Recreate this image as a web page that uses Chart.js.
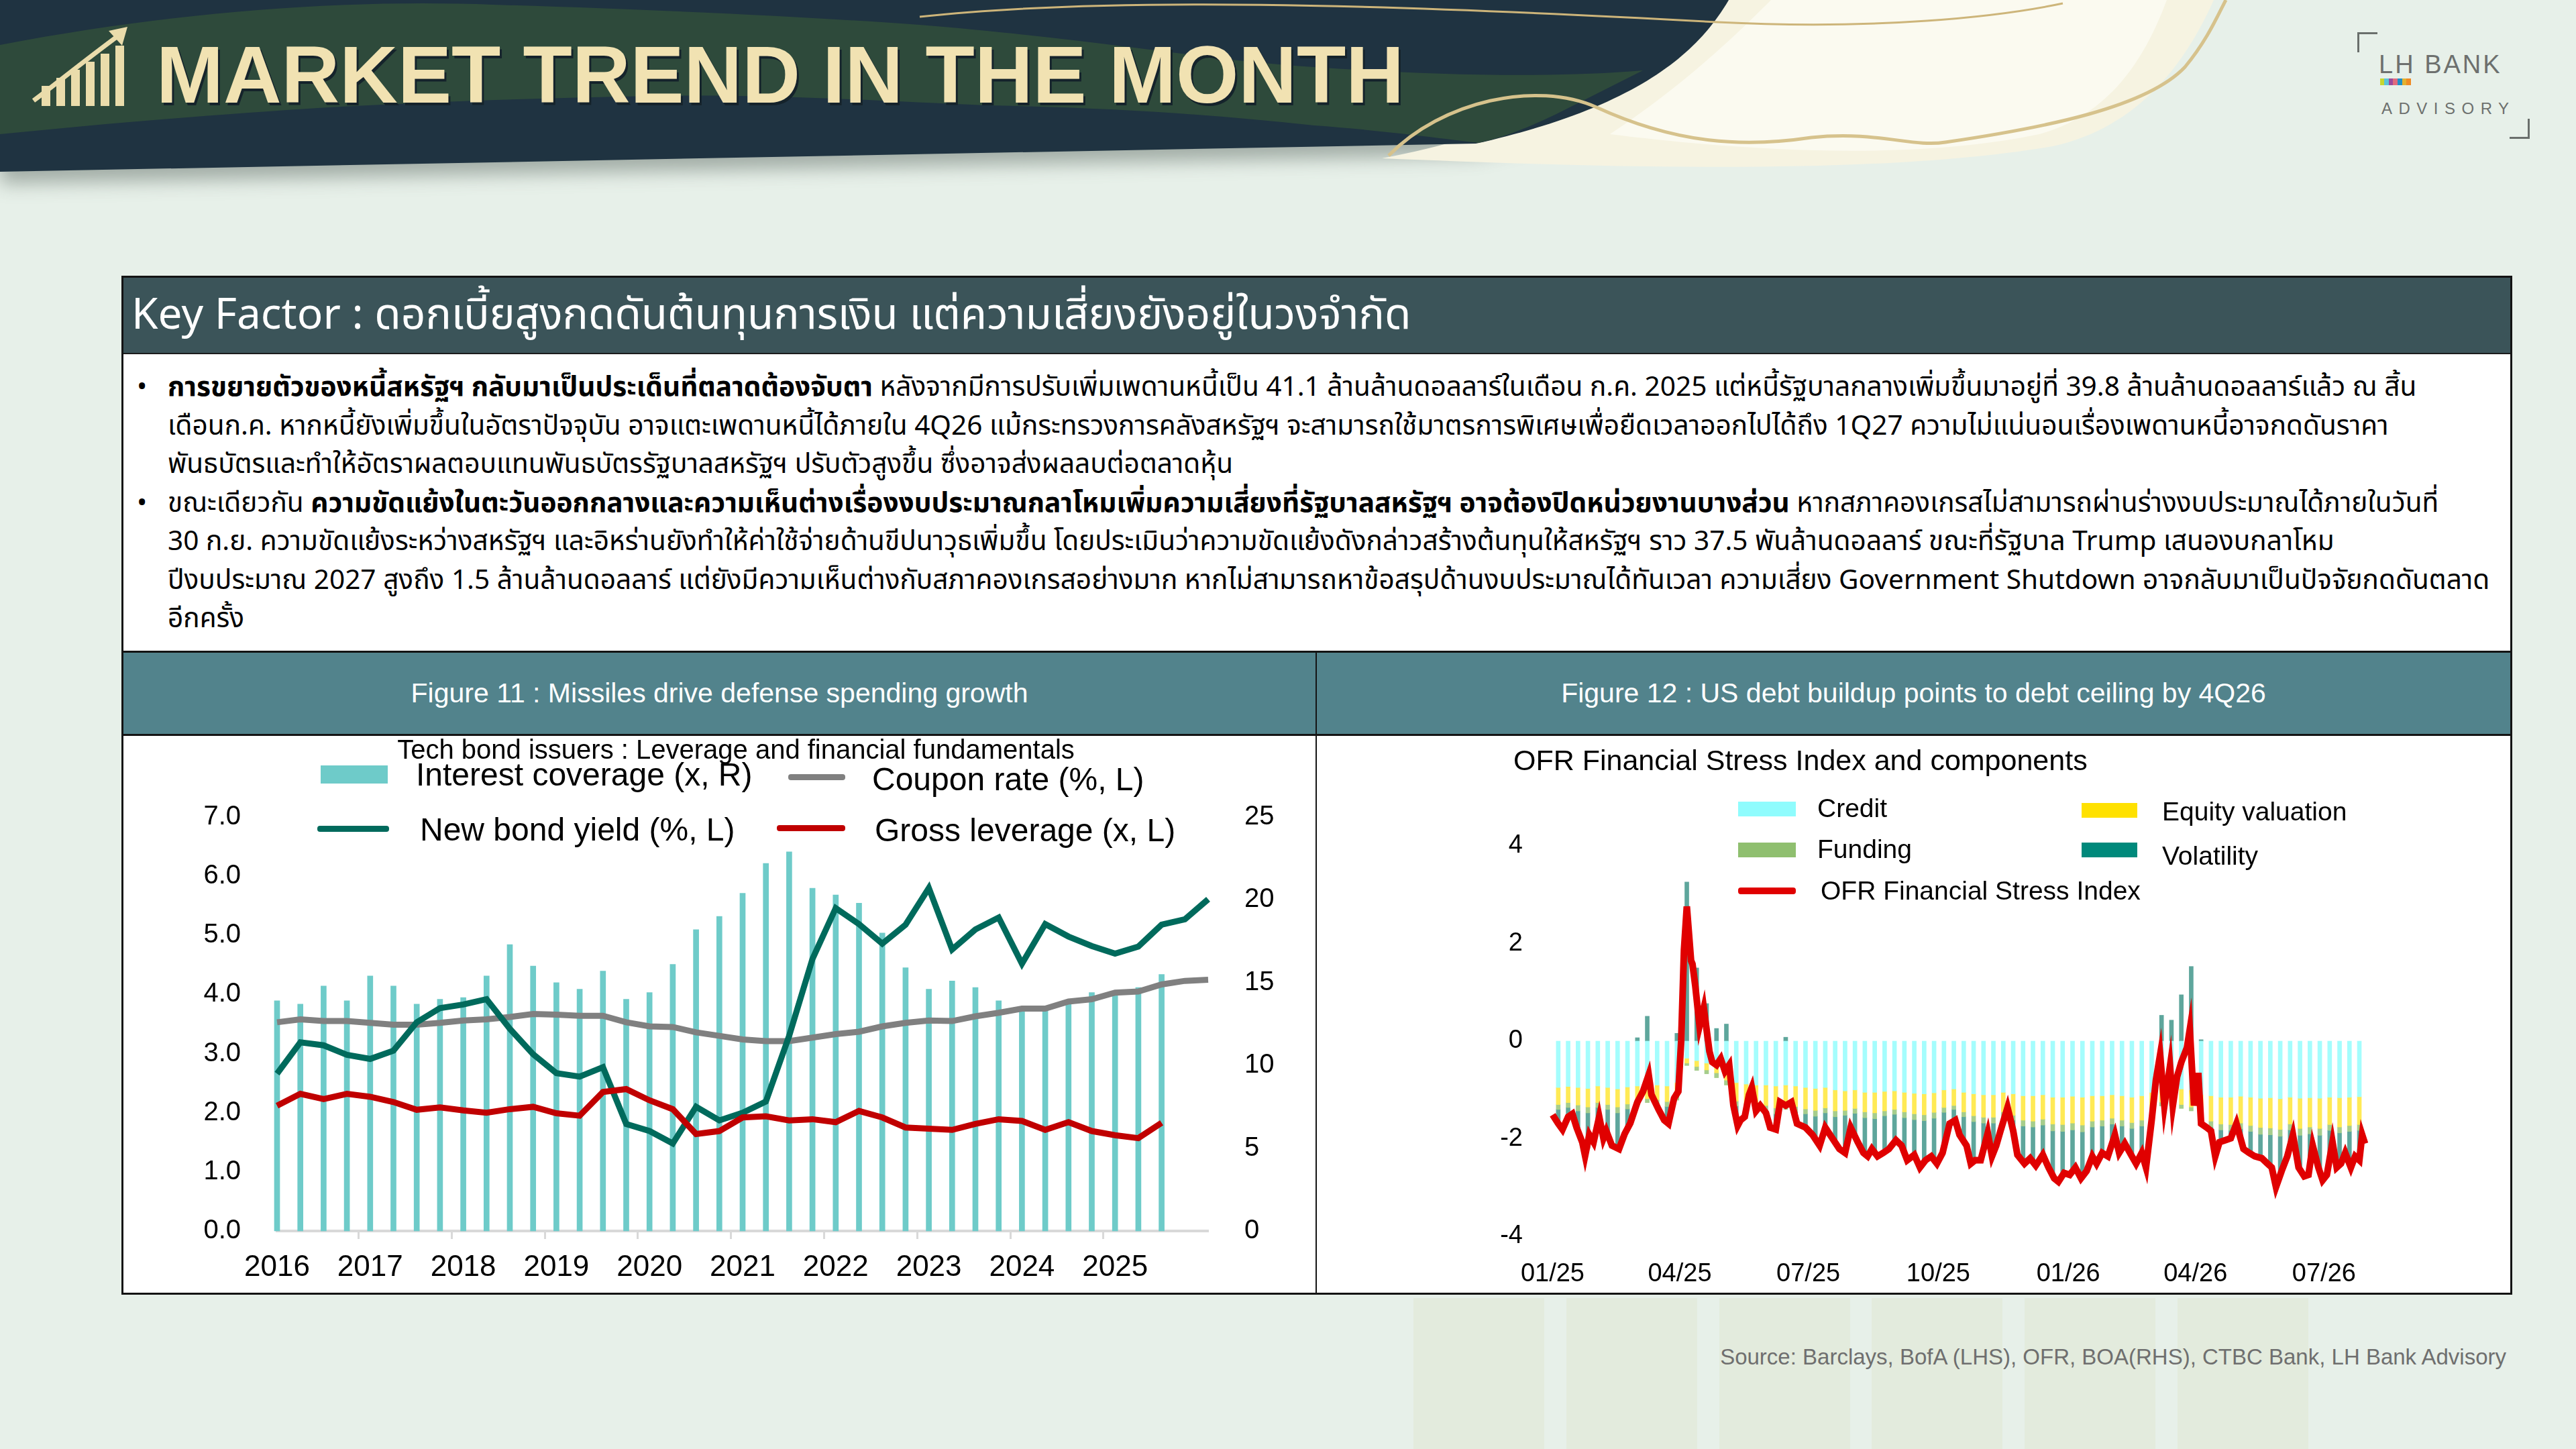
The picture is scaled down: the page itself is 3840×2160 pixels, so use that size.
<!DOCTYPE html>
<html>
<head>
<meta charset="utf-8">
<script src="https://cdn.jsdelivr.net/npm/chart.js@4.4.1/dist/chart.umd.min.js"></script>
<style>
  html, body { margin: 0; padding: 0; }
  body { width: 3840px; height: 2160px; overflow: hidden; background: #e7f0e9; font-family: "Liberation Sans", Arial, sans-serif; position: relative; }
  .abs { position: absolute; }
  .thai { font-family: "Noto Sans Thai", "Leelawadee UI", Tahoma, "Noto Sans", "DejaVu Sans", sans-serif; }
  .stripe { position: absolute; top: 1935px; height: 225px; width: 195px; background: #e3ebdd; }
  .para { position: relative; padding-left: 66px; white-space: nowrap; }
  .para .dot { position: absolute; left: 20px; top: 0; }
  .lg { position: absolute; white-space: nowrap; color: #000; }
</style>
</head>
<body>

<!-- decorative background stripes -->
<div class="stripe" style="left:2107px"></div>
<div class="stripe" style="left:2335px"></div>
<div class="stripe" style="left:2563px"></div>
<div class="stripe" style="left:2790px"></div>
<div class="stripe" style="left:3018px"></div>
<div class="stripe" style="left:3246px"></div>

<!-- header band -->
<svg class="abs" style="left:0;top:0" width="3840" height="320">
  <defs>
    <filter id="sh" x="-5%" y="-30%" width="110%" height="170%"><feGaussianBlur stdDeviation="14"/></filter>
    <clipPath id="bandClip"><path d="M0,0 L2577,0 C2530,80 2440,160 2200,214 L0,256 Z"/></clipPath>
  </defs>
  <path d="M0,0 L2577,0 C2530,80 2440,160 2200,214 L0,256 Z" fill="#5d6a64" opacity="0.5" filter="url(#sh)" transform="translate(0,18)"/>
  <path d="M2060,236 C2300,190 2420,110 2520,0 L3300,0 C3260,90 3190,190 3060,218 C2800,262 2400,250 2060,236 Z" fill="#f6f3e1"/>
  <path d="M2400,200 C2520,120 2600,40 2640,0 L3230,0 C3200,80 3150,170 3040,200 C2850,240 2600,225 2400,200 Z" fill="#fbfaf0"/>
  <path d="M0,0 L2577,0 C2530,80 2440,160 2200,214 L0,256 Z" fill="#1f3341"/>
  <g clip-path="url(#bandClip)">
    <path d="M0,67 C300,10 550,0 735,7 C1000,15 1200,25 1371,37 C1650,60 1800,90 1959,100 C2100,110 2300,118 2449,105 L2330,165 C2280,190 2240,205 2204,213 C2100,200 2030,192 1959,187 C1800,170 1650,160 1469,157 C1300,150 1150,140 980,143 C800,146 640,152 490,160 C300,172 150,185 0,200 Z" fill="#2e4a3b"/>
  </g>
  <path d="M1371,25 C1650,-5 2050,5 2560,33 C2800,45 2980,25 3075,5" stroke="#cdb57a" stroke-width="3" fill="none"/>
  <path d="M2070,232 C2150,150 2290,120 2380,160 C2500,215 2600,220 2700,205 C2800,195 2850,220 2900,212 C3050,190 3200,160 3257,100 C3290,60 3305,25 3318,0" stroke="#d6c28c" stroke-width="5" fill="none"/>
  <!-- title icon -->
  <g fill="#eadcab">
    <rect x="62" y="128" width="13" height="30"/>
    <rect x="84" y="116" width="13" height="42"/>
    <rect x="106" y="104" width="13" height="54"/>
    <rect x="128" y="92" width="13" height="66"/>
    <rect x="150" y="80" width="13" height="78"/>
    <rect x="172" y="68" width="13" height="90"/>
  </g>
  <path d="M50,150 C90,120 120,95 178,52" stroke="#eadcab" stroke-width="7" fill="none"/>
  <path d="M162,46 L190,40 L182,68 Z" fill="#eadcab"/>
</svg>

<div class="abs" style="left:233px;top:51px;font:bold 120px/120px 'Liberation Sans',Arial,sans-serif;color:#f1e2b2;text-shadow:3px 4px 0 #15232b;white-space:nowrap">MARKET TREND IN THE MONTH</div>

<!-- logo -->
<div class="abs" style="left:3514px;top:48px;width:27px;height:27px;border-left:3px solid #6a6f6c;border-top:3px solid #6a6f6c"></div>
<div class="abs" style="left:3741px;top:177px;width:27px;height:27px;border-right:3px solid #6a6f6c;border-bottom:3px solid #6a6f6c"></div>
<div class="abs" style="left:3546px;top:76px;font:38px/40px 'Liberation Sans',Arial,sans-serif;color:#6d706e;letter-spacing:3px;white-space:nowrap">LH&nbsp;BANK</div>
<div class="abs" style="left:3548px;top:117px;width:46px;height:10px;background:linear-gradient(90deg,#c8d62e 0 14%,#5bc4d8 14% 28%,#9b4a9c 28% 42%,#e06b7d 42% 57%,#1e8fc8 57% 71%,#e3b12f 71% 85%,#f08a24 85% 100%)"></div>
<div class="abs" style="left:3550px;top:149px;font:24px/26px 'Liberation Sans',Arial,sans-serif;color:#6d706e;letter-spacing:9.5px;white-space:nowrap">ADVISORY</div>

<!-- key factor block -->
<div class="abs" style="left:181px;top:411px;width:3558px;height:1513px;border:3px solid #141414;background:#fff"></div>
<div class="abs thai" style="left:184px;top:414px;width:3558px;height:114px;background:#3b5459;border-bottom:2px solid #1b1b1b;color:#fff;font-size:64px;line-height:114px;padding-left:12px;box-sizing:border-box;white-space:nowrap">Key Factor : ดอกเบี้ยสูงกดดันต้นทุนการเงิน แต่ความเสี่ยงยังอยู่ในวงจำกัด</div>

<div class="abs thai" style="left:184px;top:530px;width:3540px;height:440px;font-size:40.6px;line-height:57.5px;color:#000;padding-top:19px;box-sizing:border-box">
  <div class="para"><span class="dot">•</span><b>การขยายตัวของหนี้สหรัฐฯ กลับมาเป็นประเด็นที่ตลาดต้องจับตา</b> หลังจากมีการปรับเพิ่มเพดานหนี้เป็น 41.1 ล้านล้านดอลลาร์ในเดือน ก.ค. 2025 แต่หนี้รัฐบาลกลางเพิ่มขึ้นมาอยู่ที่ 39.8 ล้านล้านดอลลาร์แล้ว ณ สิ้น<br>เดือนก.ค. หากหนี้ยังเพิ่มขึ้นในอัตราปัจจุบัน อาจแตะเพดานหนี้ได้ภายใน 4Q26 แม้กระทรวงการคลังสหรัฐฯ จะสามารถใช้มาตรการพิเศษเพื่อยืดเวลาออกไปได้ถึง 1Q27 ความไม่แน่นอนเรื่องเพดานหนี้อาจกดดันราคา<br>พันธบัตรและทำให้อัตราผลตอบแทนพันธบัตรรัฐบาลสหรัฐฯ ปรับตัวสูงขึ้น ซึ่งอาจส่งผลลบต่อตลาดหุ้น</div>
  <div class="para"><span class="dot">•</span>ขณะเดียวกัน <b>ความขัดแย้งในตะวันออกกลางและความเห็นต่างเรื่องงบประมาณกลาโหมเพิ่มความเสี่ยงที่รัฐบาลสหรัฐฯ อาจต้องปิดหน่วยงานบางส่วน</b> หากสภาคองเกรสไม่สามารถผ่านร่างงบประมาณได้ภายในวันที่<br>30 ก.ย. ความขัดแย้งระหว่างสหรัฐฯ และอิหร่านยังทำให้ค่าใช้จ่ายด้านขีปนาวุธเพิ่มขึ้น โดยประเมินว่าความขัดแย้งดังกล่าวสร้างต้นทุนให้สหรัฐฯ ราว 37.5 พันล้านดอลลาร์ ขณะที่รัฐบาล Trump เสนองบกลาโหม<br>ปีงบประมาณ 2027 สูงถึง 1.5 ล้านล้านดอลลาร์ แต่ยังมีความเห็นต่างกับสภาคองเกรสอย่างมาก หากไม่สามารถหาข้อสรุปด้านงบประมาณได้ทันเวลา ความเสี่ยง Government Shutdown อาจกลับมาเป็นปัจจัยกดดันตลาด<br>อีกครั้ง</div>
</div>

<!-- figure header bar -->
<div class="abs" style="left:184px;top:970px;width:3558px;height:121px;background:#52838c;border-top:3px solid #141414;border-bottom:3px solid #141414"></div>
<div class="abs" style="left:184px;top:973px;width:1777px;height:121px;line-height:121px;text-align:center;color:#fff;font-size:41px;white-space:nowrap">Figure 11 : Missiles drive defense spending growth</div>
<div class="abs" style="left:1963px;top:973px;width:1779px;height:121px;line-height:121px;text-align:center;color:#fff;font-size:41px;white-space:nowrap">Figure 12 : US debt buildup points to debt ceiling by 4Q26</div>
<div class="abs" style="left:1961px;top:970px;width:2px;height:957px;background:#141414"></div>

<!-- charts -->
<div class="abs" style="left:184px;top:1097px;width:1776px;height:830px"><canvas id="leftChart"></canvas></div>
<div class="abs" style="left:1963px;top:1097px;width:1779px;height:830px"><canvas id="rightChart"></canvas></div>

<!-- left chart title & legend -->
<div class="lg" style="left:497px;top:1097px;width:1200px;text-align:center;font-size:40px;line-height:40px">Tech bond issuers : Leverage and financial fundamentals</div>
<div class="abs" style="left:478px;top:1141px;width:100px;height:27px;background:#6ecbc9"></div>
<div class="lg" style="left:620px;top:1131px;font-size:48px;line-height:48px">Interest coverage (x, R)</div>
<div class="abs" style="left:1175px;top:1154px;width:85px;height:9px;background:#808080;border-radius:4px"></div>
<div class="lg" style="left:1300px;top:1138px;font-size:48px;line-height:48px">Coupon rate (%, L)</div>
<div class="abs" style="left:473px;top:1231px;width:107px;height:9px;background:#006a5c;border-radius:4px"></div>
<div class="lg" style="left:626px;top:1213px;font-size:48px;line-height:48px">New bond yield (%, L)</div>
<div class="abs" style="left:1158px;top:1230px;width:102px;height:9px;background:#c00000;border-radius:4px"></div>
<div class="lg" style="left:1304px;top:1214px;font-size:48px;line-height:48px">Gross leverage (x, L)</div>

<!-- right chart title & legend -->
<div class="lg" style="left:2256px;top:1112px;font-size:43px;line-height:43px">OFR Financial Stress Index and components</div>
<div class="abs" style="left:2591px;top:1195px;width:86px;height:22px;background:#8ffcfd"></div>
<div class="lg" style="left:2709px;top:1185px;font-size:39px;line-height:40px">Credit</div>
<div class="abs" style="left:3103px;top:1197px;width:83px;height:22px;background:#ffe100"></div>
<div class="lg" style="left:3223px;top:1190px;font-size:39px;line-height:40px">Equity valuation</div>
<div class="abs" style="left:2591px;top:1256px;width:86px;height:22px;background:#8fbf6f"></div>
<div class="lg" style="left:2709px;top:1246px;font-size:39px;line-height:40px">Funding</div>
<div class="abs" style="left:3103px;top:1256px;width:83px;height:22px;background:#00897b"></div>
<div class="lg" style="left:3223px;top:1256px;font-size:39px;line-height:40px">Volatility</div>
<div class="abs" style="left:2591px;top:1323px;width:86px;height:10px;background:#e00000;border-radius:4px"></div>
<div class="lg" style="left:2714px;top:1308px;font-size:39px;line-height:40px">OFR Financial Stress Index</div>

<div class="lg" style="right:104px;top:2006px;font-size:33px;line-height:34px;color:#6f6f6f">Source: Barclays, BofA (LHS), OFR, BOA(RHS), CTBC Bank, LH Bank Advisory</div>

<script>
// ---- Figure 11 : quarterly, 1Q16 .. 1Q26
const quarters = ['1Q16','2Q16','3Q16','4Q16','1Q17','2Q17','3Q17','4Q17','1Q18','2Q18','3Q18','4Q18',
  '1Q19','2Q19','3Q19','4Q19','1Q20','2Q20','3Q20','4Q20','1Q21','2Q21','3Q21','4Q21',
  '1Q22','2Q22','3Q22','4Q22','1Q23','2Q23','3Q23','4Q23','1Q24','2Q24','3Q24','4Q24',
  '1Q25','2Q25','3Q25','4Q25','1Q26'];
const interestCoverage = [13.9,13.7,14.8,13.9,15.4,14.8,13.7,14.0,14.1,15.4,17.3,16.0,15.0,14.6,15.7,14.0,
  14.4,16.1,18.2,19.0,20.4,22.2,22.9,20.7,20.3,19.8,18.0,15.9,14.6,15.1,14.7,13.9,13.3,13.4,13.7,14.4,14.4,14.7,15.5];
const couponRate = [3.53,3.58,3.55,3.55,3.52,3.49,3.49,3.52,3.56,3.58,3.62,3.67,3.66,3.64,3.64,3.53,3.46,3.45,
  3.36,3.30,3.24,3.21,3.21,3.27,3.33,3.37,3.46,3.52,3.56,3.55,3.63,3.69,3.76,3.76,3.88,3.92,4.03,4.05,4.17,4.23,4.25];
const newBondYield = [2.66,3.19,3.14,2.98,2.91,3.05,3.53,3.77,3.83,3.92,3.42,2.99,2.67,2.61,2.77,1.81,1.69,1.48,
  2.10,1.87,2.00,2.19,3.30,4.60,5.46,5.19,4.86,5.18,5.80,4.76,5.10,5.30,4.52,5.19,4.98,4.82,4.69,4.81,5.18,5.27,5.61];
const grossLeverage = [2.12,2.32,2.23,2.32,2.27,2.18,2.05,2.09,2.04,2.00,2.06,2.10,1.99,1.95,2.35,2.40,2.21,2.06,
  1.64,1.69,1.92,1.94,1.87,1.89,1.84,2.03,1.92,1.75,1.73,1.71,1.81,1.89,1.86,1.71,1.84,1.69,1.62,1.57,1.83];

// ---- Figure 12 : OFR FSI, x = days since 1 Jan 2025
const tickDays = [0, 90, 181, 273, 365, 455, 546];
const tickNames = ['01/25', '04/25', '07/25', '10/25', '01/26', '04/26', '07/26'];
const fsiDays = [0,4,7,11,14,17,21,23,26,29,33,36,38,42,47,51,55,60,64,68,70,75,79,82,86,89,91,93,95,98,
  99,101,104,107,111,113,116,119,122,125,128,131,133,136,139,141,144,147,151,154,158,161,165,169,173,179,184,189,193,198,
  203,207,211,216,220,223,226,230,234,238,243,247,251,256,260,264,268,272,276,281,285,288,293,296,299,303,308,311,314,317,
  322,326,329,334,338,342,347,351,355,358,362,366,370,374,378,382,385,389,393,398,401,405,410,413,417,420,424,427,430,433,
  437,439,442,445,449,451,454,457,459,463,466,469,472,476,480,484,489,493,497,502,506,509,512,516,520,524,528,532,535,538,
  542,545,548,552,555,558,561,565,568,571,573,575];
const fsiValues = [-1.51,-1.69,-1.81,-1.55,-1.49,-1.77,-2.07,-2.35,-1.92,-2.07,-1.55,-1.99,-1.84,-2.14,-2.21,-1.90,-1.68,-1.25,-1.03,-0.69,
  -1.10,-1.40,-1.62,-1.69,-1.17,-1.03,0.00,1.87,2.76,1.65,1.58,1.13,0.31,0.68,-0.21,-0.43,-0.49,-0.36,-0.62,-0.49,
  -1.32,-1.73,-1.62,-1.55,-1.10,-0.95,-1.43,-1.32,-1.47,-1.77,-1.81,-1.25,-1.32,-1.25,-1.69,-1.77,-1.92,-2.14,-1.77,-1.99,
  -2.21,-2.29,-1.77,-2.07,-2.29,-2.36,-2.21,-2.36,-2.29,-2.21,-2.03,-2.14,-2.44,-2.33,-2.59,-2.44,-2.36,-2.51,-2.29,-1.69,
  -1.62,-1.92,-2.14,-2.51,-2.44,-2.44,-1.88,-2.36,-2.14,-1.84,-1.36,-1.84,-2.33,-2.51,-2.40,-2.55,-2.33,-2.59,-2.81,-2.88,
  -2.70,-2.74,-2.59,-2.81,-2.66,-2.36,-2.51,-2.29,-2.36,-1.92,-2.29,-2.10,-2.36,-2.51,-2.29,-2.59,-1.62,-0.80,-0.28,-1.32,
  -0.51,-1.32,-0.73,-0.43,-0.13,0.24,-1.32,-0.65,-1.69,-1.77,-1.84,-2.36,-2.07,-2.03,-1.99,-1.69,-2.21,-2.29,-2.36,-2.40,
  -2.51,-2.59,-2.99,-2.66,-2.36,-1.92,-2.59,-2.77,-2.74,-2.14,-2.59,-2.85,-2.74,-2.07,-2.59,-2.51,-2.29,-2.59,-2.36,-2.44,
  -1.92,-2.10];

// components, weekly
const compDays = [4,11,18,25,32,39,46,53,60,67,74,81,88,95,102,109,116,123,130,137,144,151,158,165,172,179,186,193,200,207,
  214,221,228,235,242,249,256,263,270,277,284,291,298,305,312,319,326,333,340,347,354,361,368,375,382,389,396,403,410,417,
  424,431,438,445,452,459,466,473,480,487,494,501,508,515,522,529,536,543,550,557,564,571];
const credit = [-0.95,-0.93,-0.95,-0.97,-0.92,-0.95,-0.98,-0.94,-0.92,-0.88,-0.90,-0.92,-0.85,-0.35,-0.40,-0.45,-0.50,-0.60,
  -0.85,-0.88,-0.90,-0.90,-0.92,-0.90,-0.92,-0.95,-0.97,-0.95,-1.00,-1.02,-1.00,-1.05,-1.05,-1.03,-1.02,-1.05,-1.07,-1.08,
  -1.06,-1.00,-0.98,-1.05,-1.08,-1.10,-1.10,-1.05,-1.08,-1.12,-1.12,-1.10,-1.15,-1.15,-1.13,-1.15,-1.12,-1.12,-1.10,-1.12,
  -1.15,-1.12,-1.05,-0.95,-0.95,-0.98,-1.00,-1.10,-1.12,-1.15,-1.15,-1.13,-1.15,-1.17,-1.16,-1.18,-1.15,-1.17,-1.16,-1.17,
  -1.15,-1.16,-1.15,-1.14];
const equityValuation = [-0.35,-0.33,-0.36,-0.38,-0.34,-0.35,-0.37,-0.35,-0.32,-0.30,-0.30,-0.32,-0.28,-0.10,-0.12,-0.14,-0.15,-0.20,
  -0.38,-0.40,-0.42,-0.42,-0.45,-0.40,-0.42,-0.44,-0.45,-0.42,-0.43,-0.40,-0.38,-0.40,-0.42,-0.40,-0.38,-0.40,-0.42,-0.43,
  -0.40,-0.36,-0.34,-0.40,-0.45,-0.46,-0.46,-0.40,-0.44,-0.50,-0.52,-0.50,-0.55,-0.56,-0.55,-0.57,-0.52,-0.50,-0.48,-0.50,
  -0.52,-0.50,-0.42,-0.30,-0.30,-0.32,-0.35,-0.50,-0.52,-0.55,-0.56,-0.55,-0.58,-0.60,-0.62,-0.63,-0.55,-0.62,-0.60,-0.62,
  -0.56,-0.60,-0.58,-0.57];
const funding = [-0.10,-0.10,-0.12,-0.12,-0.10,-0.10,-0.12,-0.10,-0.08,-0.08,-0.10,-0.10,-0.08,-0.05,-0.08,-0.08,-0.10,-0.10,
  -0.10,-0.10,-0.10,-0.12,-0.12,-0.10,-0.10,-0.10,-0.12,-0.10,-0.12,-0.10,-0.10,-0.12,-0.12,-0.10,-0.10,-0.12,-0.12,-0.12,
  -0.12,-0.10,-0.08,-0.10,-0.12,-0.12,-0.12,-0.10,-0.10,-0.12,-0.12,-0.12,-0.14,-0.14,-0.14,-0.14,-0.12,-0.12,-0.12,-0.12,
  -0.12,-0.12,-0.10,-0.08,-0.08,-0.08,-0.08,-0.12,-0.12,-0.12,-0.12,-0.12,-0.12,-0.14,-0.14,-0.14,-0.12,-0.14,-0.14,-0.14,
  -0.12,-0.12,-0.12,-0.12];
const volatility = [-0.29,-0.19,-0.37,-0.73,-0.24,-0.50,-0.73,-0.41,0.07,0.51,-0.05,-0.34,0.16,3.26,1.50,0.77,0.26,0.35,
  -0.32,-0.02,-0.01,-0.03,-0.32,0.08,-0.16,-0.28,-0.46,-0.30,-0.55,-0.77,-0.47,-0.73,-0.69,-0.74,-0.55,-0.73,-0.72,-0.85,
  -0.87,-0.74,-0.24,-0.50,-0.81,-0.52,-0.57,-0.10,-0.22,-0.73,-0.74,-0.61,-0.91,-0.89,-0.85,-0.91,-0.60,-0.55,-0.40,-0.46,
  -0.57,-0.55,-0.05,0.53,0.43,0.95,1.53,0.03,-0.08,-0.23,-0.16,-0.20,-0.45,-0.48,-0.64,-0.75,-0.28,-0.72,-0.60,-0.67,
  -0.47,-0.64,-0.65,-0.61];

Chart.defaults.font.family = "'Liberation Sans', Arial, sans-serif";
Chart.defaults.color = '#000';

const tickFont = { size: 40 };

new Chart(document.getElementById('leftChart'), {
  type: 'bar',
  data: {
    labels: quarters,
    datasets: [
      { type: 'line', label: 'Gross leverage (x, L)', data: grossLeverage, yAxisID: 'y',
        borderColor: '#c00000', borderWidth: 9, pointRadius: 0, tension: 0, order: 1 },
      { type: 'line', label: 'New bond yield (%, L)', data: newBondYield, yAxisID: 'y',
        borderColor: '#006a5c', borderWidth: 9, pointRadius: 0, tension: 0, order: 2 },
      { type: 'line', label: 'Coupon rate (%, L)', data: couponRate, yAxisID: 'y',
        borderColor: '#808080', borderWidth: 9, pointRadius: 0, tension: 0, order: 3 },
      { type: 'bar', label: 'Interest coverage (x, R)', data: interestCoverage, yAxisID: 'y1',
        backgroundColor: '#6ecbc9', barThickness: 8, clip: false, order: 10 }
    ]
  },
  options: {
    responsive: true,
    maintainAspectRatio: false,
    devicePixelRatio: 1,
    animation: false,
    layout: { padding: { top: 121, right: 0, left: 0, bottom: 0 } },
    plugins: { legend: { display: false }, tooltip: { enabled: false } },
    scales: {
      x: {
        offset: false,
        grid: {
          display: true, drawOnChartArea: false, drawTicks: true, tickLength: 12, tickWidth: 3,
          tickColor: (c) => (quarters[c.index] && quarters[c.index].startsWith('1Q') && quarters[c.index] !== '1Q26') ? '#d9d9d9' : 'rgba(0,0,0,0)'
        },
        border: { display: true, color: '#d9d9d9', width: 4 },
        ticks: {
          autoSkip: false, maxRotation: 0, font: { size: 44 }, padding: 16,
          callback: (v, i) => (quarters[i].startsWith('1Q') && quarters[i] !== '1Q26') ? '20' + quarters[i].slice(2) : ''
        },
        afterFit: (s) => { s.height = 92; }
      },
      y: {
        position: 'left', min: 0, max: 7,
        grid: { display: false }, border: { display: false },
        ticks: { stepSize: 1, font: tickFont, padding: 46, callback: (v) => v.toFixed(1) },
        afterFit: (s) => { s.width = 229; }
      },
      y1: {
        position: 'right', min: 0, max: 25,
        grid: { display: false }, border: { display: false },
        ticks: { stepSize: 5, font: tickFont, padding: 46 },
        afterFit: (s) => { s.width = 159; }
      }
    }
  }
});

const pts = (xs, ys) => xs.map((x, i) => ({ x: x, y: ys[i] }));

new Chart(document.getElementById('rightChart'), {
  type: 'bar',
  data: {
    datasets: [
      { type: 'line', label: 'OFR Financial Stress Index', data: pts(fsiDays, fsiValues),
        borderColor: '#e00000', borderWidth: 10, pointRadius: 0, tension: 0, order: 0, clip: false },
      { label: 'Credit', data: pts(compDays, credit), backgroundColor: '#a4fdfd', barThickness: 6, order: 1 },
      { label: 'Equity valuation', data: pts(compDays, equityValuation), backgroundColor: '#ffea55', barThickness: 6, order: 1 },
      { label: 'Funding', data: pts(compDays, funding), backgroundColor: '#a6cd8c', barThickness: 6, order: 1 },
      { label: 'Volatility', data: pts(compDays, volatility), backgroundColor: '#5ea69c', barThickness: 6, order: 1 }
    ]
  },
  options: {
    responsive: true,
    maintainAspectRatio: false,
    devicePixelRatio: 1,
    animation: false,
    layout: { padding: { top: 164, right: 206, left: 0, bottom: 0 } },
    plugins: { legend: { display: false }, tooltip: { enabled: false } },
    scales: {
      x: {
        type: 'linear', min: -4, max: 580, stacked: true, offset: false,
        grid: { display: false, offset: false }, border: { display: false },
        afterBuildTicks: (s) => { s.ticks = tickDays.map((v) => ({ value: v })); },
        ticks: { autoSkip: false, maxRotation: 0, font: { size: 38 }, padding: 26,
          callback: (v) => tickNames[tickDays.indexOf(v)] },
        afterFit: (s) => { s.height = 84; }
      },
      y: {
        min: -4, max: 4, stacked: true,
        grid: { display: false }, border: { display: false },
        ticks: { stepSize: 2, font: { size: 38 }, padding: 28 },
        afterFit: (s) => { s.width = 343; }
      }
    }
  }
});
</script>
</body>
</html>
